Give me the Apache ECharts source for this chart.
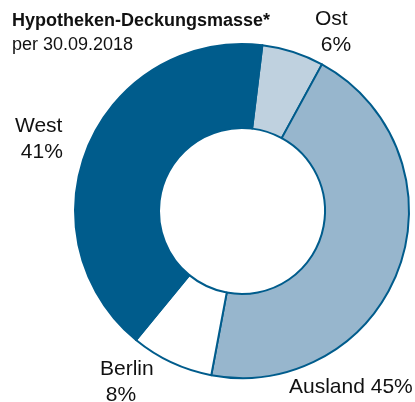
<!DOCTYPE html>
<html>
<head>
<meta charset="utf-8">
<script src="https://cdn.jsdelivr.net/npm/echarts@6/dist/echarts.min.js"></script>
<style>
html,body{margin:0;padding:0;background:#fff;}
#chart{width:415px;height:402px;}
</style>
</head>
<body>
<div id="chart"></div>
<script>
const categories = ['Ost', 'Ausland', 'Berlin', 'West'];
const values = [6, 45, 8, 41];
const labelTexts = ['Ost\n 6%', 'Ausland 45%', 'Berlin\n 8%', 'West\n 41%'];
const colors = ['#bfd1df', '#97b6cd', '#ffffff', '#005c8c'];
const titleText = 'Hypotheken-Deckungsmasse*';
const subtitleText = 'per 30.09.2018';

const labelPos = [
  {x: 315, y: 32},
  {x: 289, y: 387},
  {x: 100, y: 382},
  {x: 15, y: 139}
];

const chart = echarts.init(document.getElementById('chart'), null, {renderer: 'canvas'});
chart.setOption({
  animation: false,
  title: {
    text: titleText,
    subtext: subtitleText,
    left: 12,
    top: 10,
    padding: 0,
    itemGap: 2,
    textStyle: {fontFamily: 'Liberation Sans, Arial, sans-serif', fontSize: 18, fontWeight: 'bold', color: '#111', lineHeight: 22},
    subtextStyle: {fontFamily: 'Liberation Sans, Arial, sans-serif', fontSize: 18, color: '#111', lineHeight: 22}
  },
  series: [{
    type: 'pie',
    center: [242, 211],
    radius: [83, 167],
    startAngle: 83,
    clockwise: true,
    avoidLabelOverlap: false,
    itemStyle: {borderColor: '#005c8c', borderWidth: 2},
    label: {
      show: true,
      position: 'outside',
      formatter: p => labelTexts[p.dataIndex],
      fontFamily: 'Liberation Sans, Arial, sans-serif',
      fontSize: 21,
      lineHeight: 26,
      color: '#111',
      align: 'left'
    },
    labelLine: {show: false},
    labelLayout: p => ({x: labelPos[p.dataIndex].x, y: labelPos[p.dataIndex].y, align: 'left', verticalAlign: 'middle'}),
    emphasis: {disabled: true},
    data: categories.map((c, i) => ({name: c, value: values[i], itemStyle: {color: colors[i]}}))
  }]
});
</script>
</body>
</html>
